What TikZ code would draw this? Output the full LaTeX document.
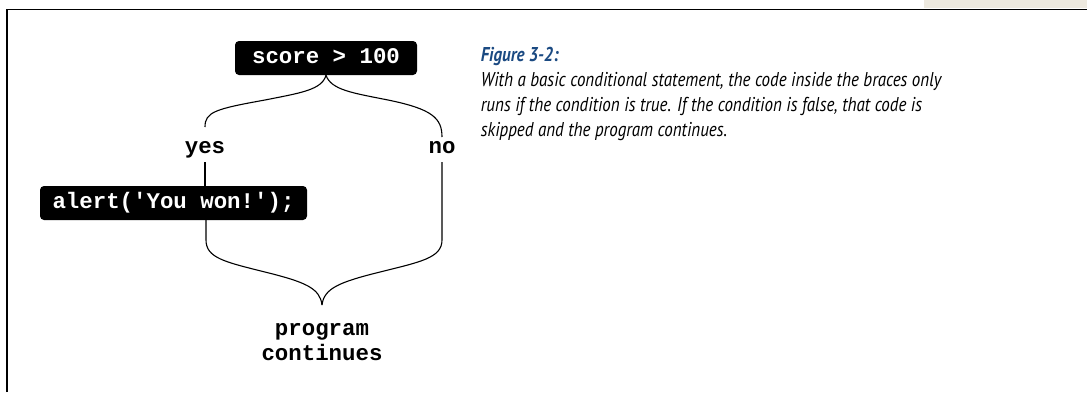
\documentclass[tikz,border=0pt]{standalone}
\usepackage{fontspec}
\setmonofont{Liberation Mono}
\newfontfamily\capfont[FakeStretch=0.85]{PT Sans}
\definecolor{capblue}{HTML}{1B4A82}
\definecolor{beige}{HTML}{EDE9DF}
\tikzset{
  codebox/.style={fill=black, text=white, rounded corners=4pt, inner sep=0pt,
    font=\ttfamily\bfseries\fontsize{22.4}{25}\selectfont, text height=14.5pt, text depth=3.5pt},
  lbl/.style={font=\ttfamily\bfseries\fontsize{22.4}{25}\selectfont, inner sep=0pt},
  conn/.style={line width=1.1pt, black},
}
\begin{document}
\begin{tikzpicture}[x=1pt,y=-1pt]
\useasboundingbox (0,0) rectangle (1087,392);
\fill[beige] (924,0) rectangle (1087,8);
\draw[line width=1.6pt] (7,392) -- (7,9.5) -- (1087,9.5);
% nodes
\node[codebox, minimum width=182pt, minimum height=34pt] (score) at (326,58) {score > 100};
\node[codebox, minimum width=267pt, minimum height=34pt, text depth=4.5pt] (alert) at (173.5,203) {alert('You won!');};
\node[lbl, anchor=base] (yes) at (205,153.5) {yes};
\node[lbl, anchor=base] (no) at (442,153.5) {no};
\node[lbl, anchor=base, align=center] (prog) at (322,360) {program\\continues};
\coordinate (join) at (322,305);
% top brace
\draw[conn] (score.south) .. controls (322,90) and (300,93) .. (265,100)
  .. controls (215,109) and (205,112) .. ([yshift=26.5pt]yes.base);
\draw[conn] (score.south) .. controls (331,90) and (353,93) .. (388,100)
  .. controls (432,109) and (442,118) .. ([yshift=16.5pt]no.base);
% verticals
\draw[conn] ([yshift=-8.5pt]yes.base) -- ([xshift=31.5pt]alert.north);
\draw[conn] ([xshift=32.5pt]alert.south) -- (206,240) .. controls (206,258) and (225,262) .. (265,272)
  .. controls (305,282) and (320,288) .. (join);
\draw[conn] ([yshift=-8.5pt]no.base) -- (442,240) .. controls (442,258) and (420,262) .. (380,272)
  .. controls (340,282) and (324,288) .. (join);
% caption
\node[anchor=base west, align=left, inner sep=0pt, font=\capfont\itshape\fontsize{20}{25}\selectfont] (cap) at (480.7,136.7)
  {{\color{capblue}\bfseries Figure 3-2:}\\
   With a basic conditional statement, the code inside the braces only\\
   runs if the condition is true. If the condition is false, that code is\\
   skipped and the program continues.};
\end{tikzpicture}
\end{document}
